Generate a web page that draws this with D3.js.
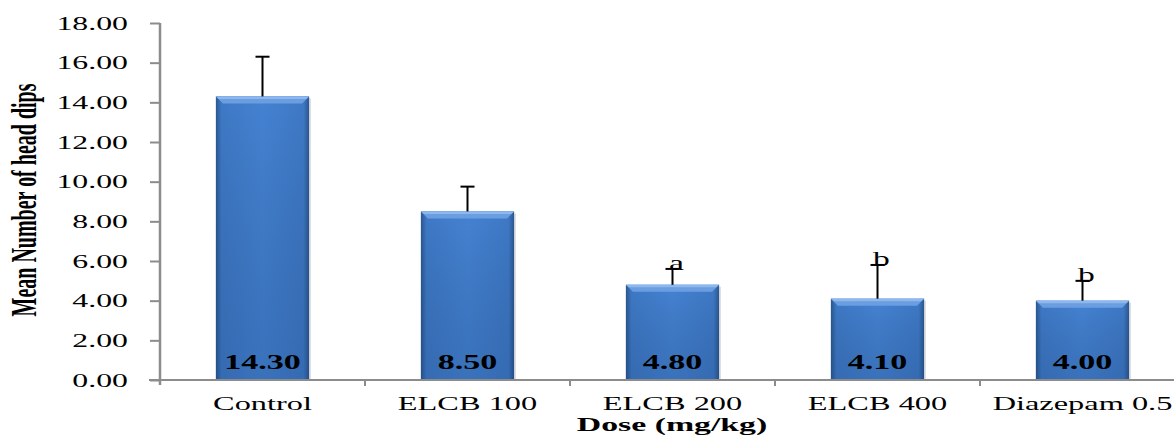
<!DOCTYPE html>
<html>
<head>
<meta charset="utf-8">
<script src="https://cdn.jsdelivr.net/npm/d3@7"></script>
<style>
  html, body { margin: 0; padding: 0; background: #fff; }
  svg { display: block; }
  text { font-family: "Liberation Serif", "DejaVu Serif", serif; fill: #000; }
</style>
</head>
<body>
<svg id="chart" width="1174" height="435"></svg>
<script>
const categories = ["Control", "ELCB 100", "ELCB 200", "ELCB 400", "Diazepam 0.5"];
const means = [14.30, 8.50, 4.80, 4.10, 4.00];
const errors = [2.0, 1.25, 0.8, 1.7, 1.0];
const sigLetters = ["", "", "a", "b", "b"];
const yTicks = [0, 2, 4, 6, 8, 10, 12, 14, 16, 18];
const yTitle = "Mean Number of head dips";
const xTitle = "Dose (mg/kg)";

const W = 1174, H = 435;
const SX = 1.75; // horizontal stretch of the original picture
const svg = d3.select("#chart");

const margin = { left: 160, right: -11, top: 23, bottom: 55 };
const x = d3.scaleBand().domain(categories).range([margin.left, W - margin.right]).padding(0);
const y = d3.scaleLinear().domain([0, 18]).range([H - margin.bottom, margin.top]);

const defs = svg.append("defs");
const gH = defs.append("linearGradient").attr("id", "barH").attr("x1", "0").attr("x2", "1").attr("y1", "0").attr("y2", "0");
gH.append("stop").attr("offset", "0").attr("stop-color", "#2a5790");
gH.append("stop").attr("offset", "0.06").attr("stop-color", "#3e79c6");
gH.append("stop").attr("offset", "0.5").attr("stop-color", "#4482d2");
gH.append("stop").attr("offset", "0.94").attr("stop-color", "#3e79c6");
gH.append("stop").attr("offset", "1").attr("stop-color", "#2a5790");
const gV = defs.append("linearGradient").attr("id", "barV").attr("x1", "0").attr("x2", "0").attr("y1", "0").attr("y2", "1");
gV.append("stop").attr("offset", "0").attr("stop-color", "#000").attr("stop-opacity", 0);
gV.append("stop").attr("offset", "1").attr("stop-color", "#0a2a5a").attr("stop-opacity", 0.18);

const barW = x.bandwidth() * 0.455;
const cx = d => x(d) + x.bandwidth() / 2;

// bars
const bars = svg.append("g");
categories.forEach((c, i) => {
  const x0 = cx(c) - barW / 2, y0 = y(means[i]), h = y(0) - y(means[i]);
  bars.append("rect").attr("x", x0).attr("y", y0).attr("width", barW).attr("height", h).attr("fill", "url(#barH)");
  bars.append("rect").attr("x", x0).attr("y", y0).attr("width", barW).attr("height", h).attr("fill", "url(#barV)");
  // top bevel
  const b = 7;
  bars.append("path")
    .attr("d", `M${x0},${y0} L${x0 + barW},${y0} L${x0 + barW - b},${y0 + b} L${x0 + b},${y0 + b} Z`)
    .attr("fill", "#6a9ee0");
  bars.append("path")
    .attr("d", `M${x0},${y0} L${x0 + barW},${y0} L${x0 + barW - 3},${y0 + 2.5} L${x0 + 3},${y0 + 2.5} Z`)
    .attr("fill", "#8db8ee");
  // shadow right edge
  bars.append("rect").attr("x", x0 + barW).attr("y", y0 + 2).attr("width", 1.5).attr("height", h - 2).attr("fill", "#c9cdd3");
});

// error bars
const eb = svg.append("g").attr("stroke", "#000").attr("stroke-width", 2);
categories.forEach((c, i) => {
  const xc = cx(c);
  eb.append("line").attr("x1", xc).attr("x2", xc).attr("y1", y(means[i])).attr("y2", y(means[i] + errors[i]));
  eb.append("line").attr("x1", xc - 7).attr("x2", xc + 7).attr("y1", y(means[i] + errors[i])).attr("y2", y(means[i] + errors[i]));
});

// stretched text helper
function stext(g, tx, ty, str, opts = {}) {
  const t = g.append("text")
    .attr("transform", `translate(${tx},${ty}) scale(${opts.sx || SX},1)` + (opts.rot ? ` rotate(${opts.rot})` : ""))
    .attr("text-anchor", opts.anchor || "middle")
    .attr("font-size", opts.size || 18)
    .attr("font-weight", opts.bold ? "bold" : "normal")
    .text(str);
  return t;
}

// significance letters
const lg = svg.append("g");
categories.forEach((c, i) => {
  if (sigLetters[i]) stext(lg, cx(c) + 4, y(means[i] + errors[i]) + 1.5, sigLetters[i], { size: 21, sx: 1.6 });
});

// value labels
const vg = svg.append("g");
categories.forEach((c, i) => {
  stext(vg, cx(c), y(0) - 11, d3.format(".2f")(means[i]), { size: 20, bold: true, sx: 1.7 });
});

// axes
const axisColor = "#8c8c8c";
const yAxis = svg.append("g").attr("transform", `translate(${margin.left},0)`)
  .call(d3.axisLeft(y).tickValues(yTicks).tickSize(10).tickFormat(() => ""));
yAxis.select(".domain").remove();
yAxis.selectAll(".tick line").attr("stroke", axisColor).attr("stroke-width", 2);
svg.append("line").attr("x1", margin.left).attr("x2", margin.left)
  .attr("y1", y(18)).attr("y2", y(0) + 5).attr("stroke", axisColor).attr("stroke-width", 2.5);

const tg = svg.append("g");
yTicks.forEach(v => stext(tg, 128, y(v) + 6.5, d3.format(".2f")(v), { anchor: "end", size: 18.5, sx: 1.72 }));

svg.append("line").attr("x1", margin.left - 11).attr("x2", W)
  .attr("y1", y(0)).attr("y2", y(0)).attr("stroke", axisColor).attr("stroke-width", 2);
const xAxis = svg.append("g").attr("transform", `translate(0,${y(0)})`)
  .call(d3.axisBottom(x).tickSize(0).tickFormat(() => ""));
xAxis.select(".domain").remove();
const bounds = categories.slice(1).map(c => x(c));
svg.append("g").selectAll("line").data(bounds).join("line")
  .attr("x1", d => d).attr("x2", d => d).attr("y1", y(0)).attr("y2", y(0) + 6)
  .attr("stroke", axisColor).attr("stroke-width", 2);

const cg = svg.append("g");
categories.forEach(c => stext(cg, cx(c), 410, c, { size: 18.5 }));

stext(svg, 672, 431, xTitle, { size: 19, bold: true, sx: 1.78 });
stext(svg, 36, 200, yTitle, { size: 20, bold: true, rot: -90 });
</script>
</body>
</html>
